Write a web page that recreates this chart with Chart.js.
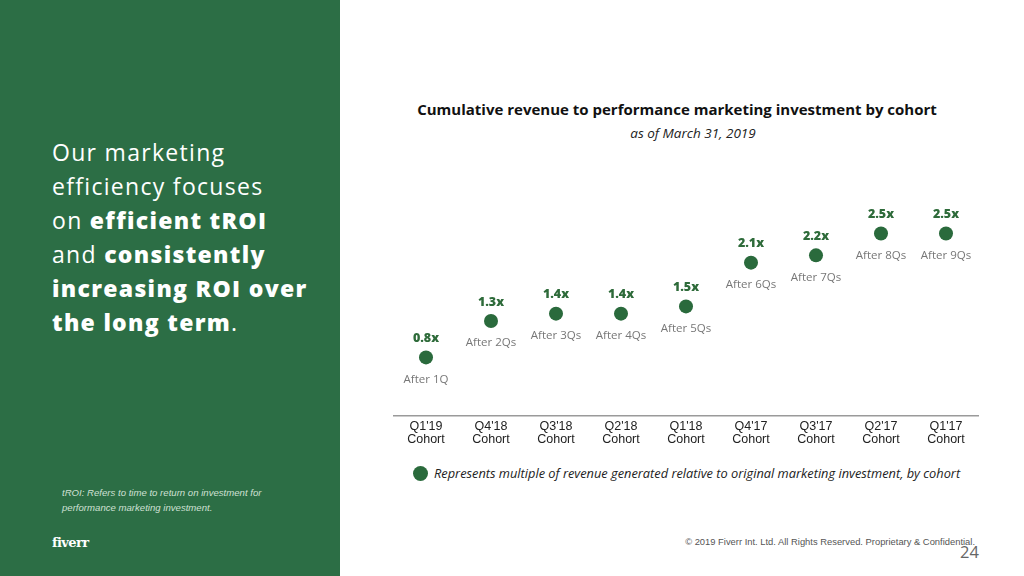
<!DOCTYPE html>
<html>
<head>
<meta charset="utf-8">
<script src="https://cdn.jsdelivr.net/npm/chart.js@4"></script>
<style>
  html, body { margin: 0; padding: 0; }
  body { width: 1024px; height: 576px; position: relative; overflow: hidden; background: #fff; font-family: "Open Sans", sans-serif; }
  #panel { position: absolute; left: 0; top: 0; width: 340px; height: 576px; background: #2c6e45; }
  #headline { position: absolute; left: 52px; top: 135px; color: #fff; font-size: 23px; line-height: 34px; font-weight: 400; letter-spacing: 1.3px; }
  #headline b { font-weight: 800; }
  #note { position: absolute; left: 62px; top: 485px; color: #cfe0d4; font-size: 9.6px; line-height: 15px; font-style: italic; font-family: "Liberation Sans", sans-serif; }
  #logo { position: absolute; left: 52px; top: 535px; color: #fff; font-size: 13px; font-weight: 700; font-family: "DejaVu Serif", serif; letter-spacing: -0.6px; }
  #title { position: absolute; left: 340px; width: 674px; top: 99px; text-align: center; font-size: 15px; font-weight: 700; color: #111; }
  #subtitle { position: absolute; left: 356px; width: 674px; top: 124px; text-align: center; font-size: 13.5px; font-style: italic; color: #222; }
  #wrap { position: absolute; left: 340px; top: 151px; width: 684px; height: 310px; }
  #legend { position: absolute; left: 413px; top: 464px; font-size: 12.8px; font-style: italic; color: #222; }
  #legend span.dot { display: inline-block; width: 15px; height: 15px; border-radius: 50%; background: #2a6a3c; vertical-align: -3px; margin-right: 6px; }
  #copy { position: absolute; right: 49px; top: 536px; font-size: 9.4px; color: #555; font-family: "Liberation Sans", sans-serif; }
  #page { position: absolute; left: 960px; top: 540px; font-size: 16.5px; color: #666; }
</style>
</head>
<body>
<div id="panel"></div>
<div id="headline">Our marketing<br>efficiency focuses<br>on <b>efficient tROI</b><br>and <b>consistently</b><br><b>increasing ROI over</b><br><b>the long term</b>.</div>
<div id="note">tROI: Refers to time to return on investment for<br>performance marketing investment.</div>
<div id="logo">fiverr</div>
<div id="title">Cumulative revenue to performance marketing investment by cohort</div>
<div id="subtitle">as of March 31, 2019</div>
<div id="wrap"><canvas id="chart"></canvas></div>
<div id="legend"><span class="dot"></span>Represents multiple of revenue generated relative to original marketing investment, by cohort</div>
<div id="copy">© 2019 Fiverr Int. Ltd. All Rights Reserved. Proprietary &amp; Confidential.</div>
<div id="page">24</div>

<script>
// data
const cohorts = ["Q1'19", "Q4'18", "Q3'18", "Q2'18", "Q1'18", "Q4'17", "Q3'17", "Q2'17", "Q1'17"];
const multiples = [0.8, 1.3, 1.4, 1.4, 1.5, 2.1, 2.2, 2.5, 2.5];
const periods = ["After 1Q", "After 2Qs", "After 3Qs", "After 4Qs", "After 5Qs", "After 6Qs", "After 7Qs", "After 8Qs", "After 9Qs"];

const green = "#2a6a3c";

// value above each dot, period below it
const pointLabels = {
  id: "pointLabels",
  afterDatasetsDraw(chart) {
    const ctx = chart.ctx;
    const meta = chart.getDatasetMeta(0);
    ctx.save();
    ctx.textAlign = "center";
    ctx.textBaseline = "middle";
    meta.data.forEach((pt, i) => {
      ctx.fillStyle = "#2e6b3a";
      ctx.font = "800 12.5px 'Open Sans', sans-serif";
      ctx.fillText(multiples[i].toFixed(1) + "x", pt.x, pt.y - 19);
      ctx.fillStyle = "#777";
      ctx.font = "400 11.5px 'Open Sans', sans-serif";
      ctx.fillText(periods[i], pt.x, pt.y + 22);
    });
    ctx.restore();
  }
};

const ctx = document.getElementById("chart").getContext("2d");
new Chart(ctx, {
  type: "line",
  data: {
    labels: cohorts.map((c) => [c, "Cohort"]),
    datasets: [{
      data: multiples,
      showLine: false,
      pointRadius: 7,
      pointHoverRadius: 7,
      pointBackgroundColor: green,
      pointBorderColor: green,
      pointBorderWidth: 0
    }]
  },
  options: {
    responsive: true,
    maintainAspectRatio: false,
    animation: false,
    layout: { padding: { left: 53.5, right: 45.5, top: 46, bottom: 11 } },
    plugins: { legend: { display: false }, tooltip: { enabled: false }, title: { display: false } },
    scales: {
      x: {
        offset: true,
        grid: { display: false, drawTicks: false },
        border: { display: true, color: "#9a9a9a", width: 1.5 },
        ticks: {
          color: "#222",
          padding: 4,
          font: { family: "'Liberation Sans', sans-serif", size: 12.5, lineHeight: 1.05 },
          maxRotation: 0
        }
      },
      y: { display: false, min: 0, max: 3 }
    }
  },
  plugins: [pointLabels]
});
</script>
</body>
</html>
